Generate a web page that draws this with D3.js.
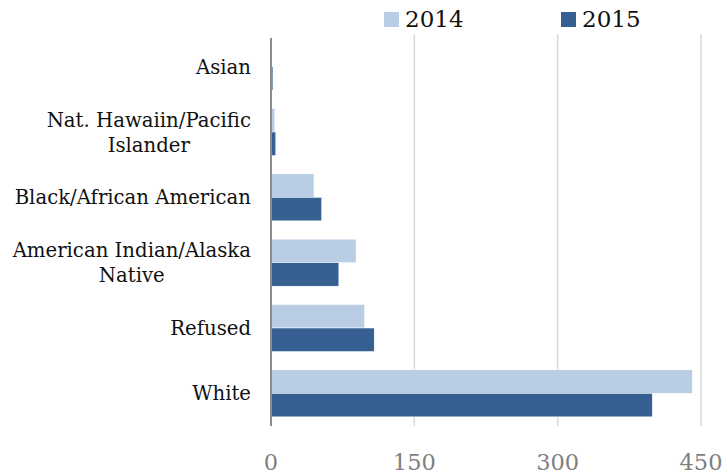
<!DOCTYPE html>
<html>
<head>
<meta charset="utf-8">
<script src="https://cdn.jsdelivr.net/npm/d3@7"></script>
<style>
  body { margin: 0; background: #fff; }
  text { font-family: "DejaVu Serif", serif; }
</style>
</head>
<body>
<div id="root"></div>
<script>
"use strict";

const categories = [
  ["Asian"],
  ["Nat. Hawaiin/Pacific", "Islander"],
  ["Black/African American"],
  ["American Indian/Alaska", "Native"],
  ["Refused"],
  ["White"],
];
const values2014 = [1, 4, 45, 89, 98, 441];
const values2015 = [2, 5, 53, 71, 108, 399];
const seriesNames = ["2014", "2015"];
const tickValues = [0, 150, 300, 450];

const width = 725;
const height = 475;
const plotLeft = 271;
const plotRight = 701;
const plotTop = 34;
const plotBottom = 426;
const colors = { "2014": "#b9cde5", "2015": "#376092" };

const svg = d3.select("#root")
  .append("svg")
  .attr("width", width)
  .attr("height", height);

const x = d3.scaleLinear().domain([0, 450]).range([plotLeft, plotRight]);

const y = d3.scaleBand()
  .domain(d3.range(categories.length))
  .range([plotTop, plotBottom])
  .paddingInner(0.28)
  .paddingOuter(0.14);

const inner = d3.scaleBand()
  .domain(seriesNames)
  .range([0, y.bandwidth()]);

// gridlines
svg.append("g")
  .selectAll("line")
  .data(tickValues.slice(1))
  .enter()
  .append("line")
  .attr("x1", (d) => x(d))
  .attr("x2", (d) => x(d))
  .attr("y1", plotTop)
  .attr("y2", plotBottom)
  .attr("stroke", "#d9d9d9")
  .attr("stroke-width", 1.5);

const rows = categories.map((c, i) => ({ i, "2014": values2014[i], "2015": values2015[i] }));

const groups = svg.append("g")
  .selectAll("g")
  .data(rows)
  .enter()
  .append("g")
  .attr("transform", (d) => `translate(0, ${y(d.i)})`);

groups.selectAll("rect")
  .data((d) => seriesNames.map((s) => ({ s, v: d[s] })))
  .enter()
  .append("rect")
  .attr("x", x(0))
  .attr("y", (d) => inner(d.s))
  .attr("width", (d) => x(d.v) - x(0))
  .attr("height", inner.bandwidth())
  .attr("fill", (d) => colors[d.s])
  .attr("stroke", "#fff")
  .attr("stroke-width", 0.5);

// vertical axis line
svg.append("line")
  .attr("x1", x(0))
  .attr("x2", x(0))
  .attr("y1", plotTop + 4)
  .attr("y2", plotBottom)
  .attr("stroke", "#8c8c8c")
  .attr("stroke-width", 2);

// category labels
const labels = svg.append("g")
  .selectAll("text")
  .data(categories)
  .enter()
  .append("text")
  .attr("font-size", 19.7)
  .attr("fill", "#111")
  .attr("text-anchor", "middle");

labels.each(function (lines, i) {
  const t = d3.select(this);
  const lh = 25;
  const cy = y(i) + y.bandwidth() / 2;
  const y0 = cy - (lines.length - 1) * lh / 2 + 7;
  lines.forEach((ln, j) => {
    t.append("tspan").attr("y", y0 + j * lh).text(ln);
  });
  let w = 0;
  t.selectAll("tspan").each(function () { w = Math.max(w, this.getComputedTextLength()); });
  t.selectAll("tspan").attr("x", x(0) - 20 - w / 2);
});

// x tick labels
svg.append("g")
  .selectAll("text")
  .data(tickValues)
  .enter()
  .append("text")
  .attr("x", (d) => x(d))
  .attr("y", 470)
  .attr("text-anchor", "middle")
  .attr("font-size", 22.5)
  .attr("fill", "#7f7f7f")
  .text((d) => d);

// legend
const legend = svg.append("g")
  .selectAll("g")
  .data(seriesNames)
  .enter()
  .append("g")
  .attr("transform", (d, i) => `translate(${384 + i * 177}, 0)`);

legend.append("rect")
  .attr("x", 0)
  .attr("y", 12)
  .attr("width", 15)
  .attr("height", 15)
  .attr("fill", (d) => colors[d]);

legend.append("text")
  .attr("x", 21)
  .attr("y", 27)
  .attr("font-size", 23)
  .attr("fill", "#111")
  .text((d) => d);
</script>
</body>
</html>
